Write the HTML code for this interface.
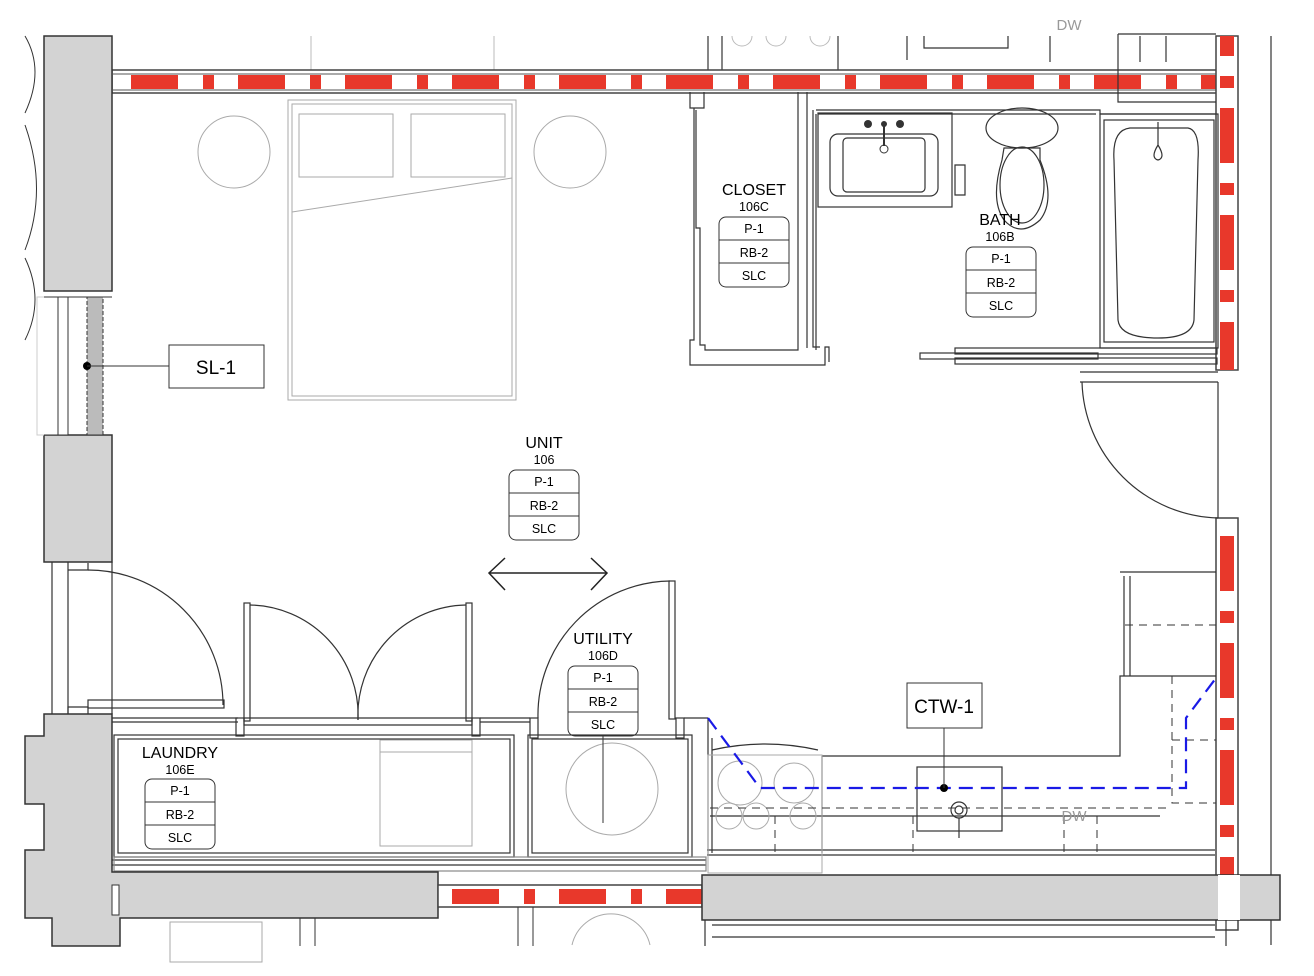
<!DOCTYPE html>
<html><head><meta charset="utf-8"><style>
html,body{margin:0;padding:0;background:#fff;}
svg{display:block;font-family:"Liberation Sans",sans-serif;}
</style></head><body>
<svg width="1314" height="976" viewBox="0 0 1314 976" xmlns="http://www.w3.org/2000/svg">
<defs>
<pattern id="rh" patternUnits="userSpaceOnUse" x="131" y="0" width="107" height="20">
<rect x="0" y="0" width="47" height="20" fill="#e8382b"/>
<rect x="72" y="0" width="11" height="20" fill="#e8382b"/>
</pattern>
<pattern id="rv" patternUnits="userSpaceOnUse" x="0" y="36" width="20" height="107">
<rect x="0" y="0" width="20" height="20" fill="#e8382b"/>
<rect x="0" y="40" width="20" height="12" fill="#e8382b"/>
<rect x="0" y="72" width="20" height="45" fill="#e8382b"/>
</pattern>
</defs>
<rect width="1314" height="976" fill="#fff"/>

<!-- faint background lines above -->
<g stroke="#bbb" stroke-width="1" fill="none">
<line x1="311" y1="36" x2="311" y2="70"/><line x1="494" y1="36" x2="494" y2="70"/>
<path d="M732 36 a10 10 0 0 0 20 0 M766 36 a10 10 0 0 0 20 0 M810 36 a10 10 0 0 0 20 0"/>
</g>
<g stroke="#333" stroke-width="1.2" fill="none">
<line x1="708" y1="36" x2="708" y2="70"/><line x1="722" y1="36" x2="722" y2="70"/>
<line x1="838" y1="36" x2="838" y2="70"/><line x1="907" y1="36" x2="907" y2="60"/>
<path d="M924 36 V48 H1008 V36"/><line x1="1050" y1="36" x2="1050" y2="62"/>
<line x1="1140" y1="36" x2="1140" y2="62"/><line x1="1166" y1="36" x2="1166" y2="62"/>
<line x1="1271" y1="36" x2="1271" y2="945"/>
</g>
<text x="1069" y="30" font-size="15" fill="#999" text-anchor="middle">DW</text>

<!-- left arcs (windows outside) -->
<g stroke="#333" stroke-width="1" fill="none">
<path d="M25 36 Q45 70 25 113"/><path d="M25 125 Q48 190 25 250"/><path d="M25 258 Q45 300 25 340"/>
</g>

<!-- top wall -->
<rect x="112" y="70" width="1106" height="23" fill="#fff" stroke="#444" stroke-width="1.5"/>
<rect x="112" y="75" width="1106" height="15" fill="url(#rh)"/>
<rect x="112" y="73" width="1106" height="2" fill="#aaa"/>
<rect x="112" y="89" width="1106" height="2" fill="#aaa"/>

<!-- right wall -->
<rect x="1216" y="36" width="22" height="334" fill="#fff" stroke="#444" stroke-width="1.5"/>
<rect x="1220" y="36" width="14" height="334" fill="url(#rv)"/>
<rect x="1216" y="518" width="22" height="412" fill="#fff" stroke="#444" stroke-width="1.5"/>
<rect x="1220" y="520" width="14" height="410" fill="url(#rv)"/>

<!-- left column gray -->
<rect x="44" y="36" width="68" height="255" fill="#d3d3d3" stroke="#333" stroke-width="1.5"/>
<rect x="44" y="435" width="68" height="127" fill="#d3d3d3" stroke="#333" stroke-width="1.5"/>
<!-- window SL-1 -->
<rect x="37" y="297" width="22" height="138" fill="#fff" stroke="#ccc"/>
<rect x="58" y="297" width="10" height="138" fill="#fff" stroke="#333"/>
<rect x="87" y="297" width="16" height="138" fill="#bbb" stroke="#333" stroke-dasharray="4 2"/>
<line x1="44" y1="297" x2="112" y2="297" stroke="#333"/><line x1="44" y1="435" x2="112" y2="435" stroke="#333"/>
<circle cx="87" cy="366" r="4" fill="#000"/>
<line x1="87" y1="366" x2="169" y2="366" stroke="#333"/>
<rect x="169" y="345" width="95" height="43" fill="#fff" stroke="#333"/>
<text x="216" y="374" font-size="19" text-anchor="middle">SL-1</text>

<!-- bedroom furniture -->
<g stroke="#aaa" stroke-width="1" fill="none">
<circle cx="234" cy="152" r="36"/><circle cx="570" cy="152" r="36"/>
<rect x="288" y="100" width="228" height="300"/><rect x="292" y="104" width="220" height="292"/>
<rect x="299" y="114" width="94" height="63"/><rect x="411" y="114" width="94" height="63"/>
<line x1="292" y1="212" x2="512" y2="178"/>
</g>

<!-- closet -->
<g stroke="#333" stroke-width="1.2" fill="none">
<path d="M690 92 V108 H704 V92"/>
<path d="M694 108 V340 H690 V365 H825 V347 H829 V362"/>
<path d="M696 110 V228 H700 V345 H705 V350 H798 V92"/>
<path d="M807 92 V348"/>
<path d="M813 110 V347 H820"/>
<path d="M816 110 H1100 V114 H1216"/>
<path d="M816 114 V350"/>
<path d="M818 114 H1096"/>
<rect x="818" y="113" width="134" height="94"/>
<rect x="830" y="134" width="108" height="62" rx="8"/>
<rect x="843" y="138" width="82" height="54" rx="4"/>
<path d="M955 165 V195 H965 V165 Z"/>
<rect x="1100" y="114" width="118" height="234"/>
<rect x="1104" y="120" width="110" height="222"/>
<path d="M1130 128 H1188 Q1200 130 1198 160 L1194 320 Q1192 338 1158 338 Q1120 338 1118 320 L1114 160 Q1112 130 1130 128 Z"/>
<path d="M1158 122 V145 M1158 145 Q1150 158 1158 160 Q1166 158 1158 145"/>
<path d="M1118 34 H1216 M1118 34 V102 H1216"/>
<ellipse cx="1022" cy="128" rx="36" ry="20"/>
<path d="M1004 148 H1040 L1040 160 Q1056 200 1040 220 Q1020 238 1004 220 Q990 200 1002 160 Z"/>
<ellipse cx="1022" cy="185" rx="22" ry="38"/>
<rect x="955" y="348" width="262" height="6"/><rect x="955" y="358" width="262" height="6"/>
<rect x="920" y="353" width="178" height="6"/>
<path d="M1080 372 H1218 M1080 382 H1218"/>
<path d="M1082 382 A140 140 0 0 0 1218 518"/>
<line x1="1218" y1="382" x2="1218" y2="518"/>
</g>
<g fill="#333"><circle cx="868" cy="124" r="4"/><circle cx="900" cy="124" r="4"/><circle cx="884" cy="124" r="3"/><circle cx="884" cy="149" r="4" fill="none" stroke="#333"/></g>
<line x1="884" y1="124" x2="884" y2="146" stroke="#333" stroke-width="2"/>

<!-- tag boxes -->
<g font-size="12.5" text-anchor="middle">
<text x="754" y="195" font-size="16">CLOSET</text><text x="754" y="211">106C</text>
<rect x="719" y="217" width="70" height="70" rx="7" fill="#fff" stroke="#333"/>
<line x1="719" y1="240" x2="789" y2="240" stroke="#333"/><line x1="719" y1="263" x2="789" y2="263" stroke="#333"/>
<text x="754" y="233">P-1</text><text x="754" y="257">RB-2</text><text x="754" y="280">SLC</text>

<text x="1000" y="225" font-size="16">BATH</text><text x="1000" y="241">106B</text>
<rect x="966" y="247" width="70" height="70" rx="7" fill="#fff" stroke="#333"/>
<line x1="966" y1="270" x2="1036" y2="270" stroke="#333"/><line x1="966" y1="293" x2="1036" y2="293" stroke="#333"/>
<text x="1001" y="263">P-1</text><text x="1001" y="287">RB-2</text><text x="1001" y="310">SLC</text>

<text x="544" y="448" font-size="16">UNIT</text><text x="544" y="464">106</text>
<rect x="509" y="470" width="70" height="70" rx="7" fill="#fff" stroke="#333"/>
<line x1="509" y1="493" x2="579" y2="493" stroke="#333"/><line x1="509" y1="516" x2="579" y2="516" stroke="#333"/>
<text x="544" y="486">P-1</text><text x="544" y="510">RB-2</text><text x="544" y="533">SLC</text>

<text x="603" y="644" font-size="16">UTILITY</text><text x="603" y="660">106D</text>
<rect x="568" y="666" width="70" height="70" rx="7" fill="#fff" stroke="#333"/>
<line x1="568" y1="689" x2="638" y2="689" stroke="#333"/><line x1="568" y1="712" x2="638" y2="712" stroke="#333"/>
<text x="603" y="682">P-1</text><text x="603" y="706">RB-2</text><text x="603" y="729">SLC</text>

<text x="180" y="758" font-size="16">LAUNDRY</text><text x="180" y="774">106E</text>
<rect x="145" y="779" width="70" height="70" rx="7" fill="#fff" stroke="#333"/>
<line x1="145" y1="802" x2="215" y2="802" stroke="#333"/><line x1="145" y1="825" x2="215" y2="825" stroke="#333"/>
<text x="180" y="795">P-1</text><text x="180" y="819">RB-2</text><text x="180" y="842">SLC</text>
</g>

<!-- arrow -->
<g stroke="#222" stroke-width="1.5" fill="none">
<line x1="489" y1="573" x2="607" y2="573"/>
<path d="M505 558 L489 573 L505 590"/><path d="M591 558 L607 573 L591 590"/>
</g>

<!-- lower left doors -->
<g stroke="#333" stroke-width="1.2" fill="none">
<path d="M52 562 V714 M68 562 V714 M112 562 V714"/>
<path d="M68 570 H88 V563"/>
<path d="M88 570 A135 135 0 0 1 223 705"/>
<rect x="88" y="700" width="136" height="8"/>
<path d="M68 714 V707 H88 V714"/>
<rect x="244" y="603" width="6" height="118"/><rect x="466" y="603" width="6" height="118"/>
<path d="M250 605 A110 110 0 0 1 358 720"/>
<path d="M466 605 A110 110 0 0 0 358 720"/>
<path d="M112 718 H238 M112 722 H238"/>
<rect x="236" y="718" width="8" height="18"/><rect x="472" y="718" width="8" height="18"/>
<path d="M244 718 H472 V725 H244 Z"/>
<rect x="114" y="735" width="400" height="122"/><rect x="118" y="739" width="392" height="114"/>
<path d="M480 718 H530 M480 722 H530"/>
<rect x="530" y="718" width="8" height="20"/>
<rect x="676" y="718" width="8" height="20"/>
<path d="M538 718 A134 134 0 0 1 670 581"/>
<rect x="669" y="581" width="6" height="138"/>
<rect x="528" y="735" width="164" height="122"/><rect x="532" y="739" width="156" height="114"/>
<path d="M684 718 H708"/>
<path d="M112 860 H706 M112 865 H706"/>
<rect x="114" y="857" width="592" height="14" stroke="#888"/>
</g>
<g stroke="#aaa" fill="none">
<rect x="380" y="740" width="92" height="106"/><line x1="380" y1="752" x2="472" y2="752"/>
<ellipse cx="612" cy="789" rx="46" ry="46"/>
<rect x="170" y="922" width="92" height="40"/>
<path d="M572 945 A40 40 0 0 1 650 945"/>
</g>
<line x1="603" y1="736" x2="603" y2="823" stroke="#333"/>

<!-- bottom-left gray -->
<path d="M44 714 H112 V872 H438 V918 H120 V946 H52 V918 H25 V850 H44 V804 H25 V736 H44 Z" fill="#d3d3d3" stroke="#333" stroke-width="1.5"/>
<rect x="112" y="885" width="7" height="30" fill="#fff" stroke="#333"/>
<!-- bottom wall segment -->
<rect x="438" y="885" width="264" height="22" fill="#fff" stroke="#444" stroke-width="1.5"/>
<rect x="438" y="889" width="264" height="15" fill="url(#rh)"/>
<g stroke="#333" fill="none"><path d="M300 918 V946 M315 918 V946 M518 907 V946 M533 907 V946"/></g>

<!-- kitchen -->
<rect x="702" y="875" width="578" height="45" fill="#d3d3d3" stroke="#333" stroke-width="1.5"/>
<rect x="1218" y="875" width="22" height="45" fill="#fff"/>
<g stroke="#333" stroke-width="1.2" fill="none">
<path d="M708 718 V855 M712 738 V853"/>
<path d="M707 855 H1215 M707 850 H1215"/>
<path d="M822 756 H1120 V676 H1216"/>
<path d="M822 756 V853"/>
<path d="M710 816 H1160"/>
<path d="M1120 572 H1216 M1124 576 V676 M1130 576 V676"/>
<rect x="917" y="767" width="85" height="64"/>
<circle cx="959" cy="810" r="8"/><circle cx="959" cy="810" r="4"/>
<path d="M959 818 V838"/>
<path d="M712 750 Q765 738 818 750"/>
<path d="M712 925 H1215 M712 937 H1215 M705 920 V946 M1226 920 V946"/>
</g>
<g stroke="#aaa" fill="none">
<circle cx="740" cy="783" r="22"/><circle cx="794" cy="783" r="20"/>
<circle cx="729" cy="816" r="13"/><circle cx="756" cy="816" r="13"/><circle cx="803" cy="816" r="13"/>
<rect x="708" y="755" width="114" height="118"/>
</g>
<g stroke="#333" stroke-dasharray="8 6" fill="none">
<path d="M710 808 H1168"/><path d="M775 816 V853 M913 816 V853 M1064 816 V853 M1097 816 V853"/>
<path d="M1172 676 V803 H1216"/><path d="M1125 625 H1216 M1172 740 H1216"/>
</g>
<text x="1074" y="821" font-size="15" fill="#999" text-anchor="middle">DW</text>
<!-- blue dashed -->
<path d="M708 718 L760 788 H1186 V718 L1216 678" fill="none" stroke="#1a1ae6" stroke-width="2.2" stroke-dasharray="14 8"/>
<circle cx="944" cy="788" r="4" fill="#000"/>
<line x1="944" y1="728" x2="944" y2="788" stroke="#333"/>
<rect x="907" y="683" width="75" height="45" fill="#fff" stroke="#333"/>
<text x="944" y="713" font-size="19" text-anchor="middle">CTW-1</text>
</svg>
</body></html>
